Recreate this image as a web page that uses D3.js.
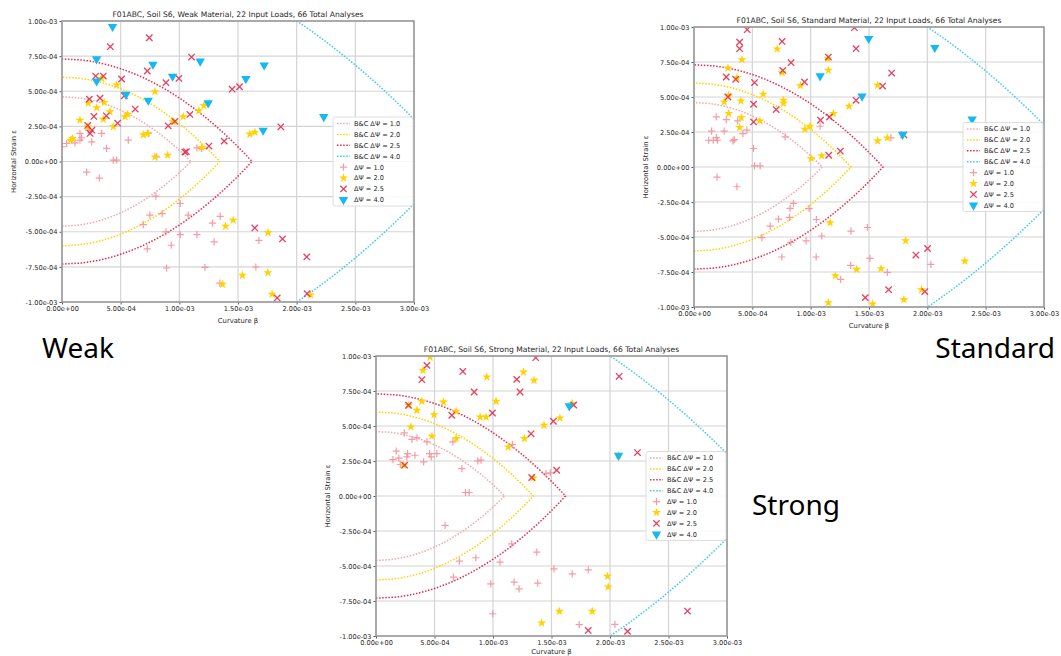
<!DOCTYPE html>
<html>
<head>
<meta charset="UTF-8">
<title>F01ABC, Soil S6 - Weak / Standard / Strong Material</title>
<script src="https://d3js.org/d3.v7.min.js"></script>
<style>
  body { margin: 0; background: #fff; }
  svg { display: block; }
  text { font-family: "DejaVu Sans", sans-serif; fill: #262626; }
  .big { font-family: "Noto Sans", sans-serif; font-size: 28px; fill: #000; }
</style>
</head>
<body>
<div id="chart"></div>
<script>
// all values in units of 1e-3 : [curvature beta, horizontal strain eps]
var xTicks = [0, 0.5, 1, 1.5, 2, 2.5, 3];
var yTicks = [-1, -0.75, -0.5, -0.25, 0, 0.25, 0.5, 0.75, 1];

var dvLevels = ["1.0", "2.0", "2.5", "4.0"];
var bcStrain0 = [0.46, 0.60, 0.73, 1.56];   // B&C limit: strain at zero curvature
var bcBetaMax = [1.10, 1.345, 1.62, 3.34];  // B&C limit: curvature at zero strain

// ---- Weak material
var weak10 = [[0.003,0.105],[0.040,0.128],[0.083,0.152],[0.111,0.133],[0.153,0.200],[0.153,0.152],[0.167,0.169],[0.224,0.223],[0.253,0.140],[0.338,0.200],[0.380,0.093],[0.437,0.010],[0.466,0.010],[0.565,0.152],[0.210,-0.076],[0.318,-0.119],[0.735,0.200],[0.807,0.033],[0.800,-0.247],[1.008,-0.299],[0.749,-0.382],[0.854,-0.371],[1.076,-0.382],[0.693,-0.449],[0.886,-0.501],[1.008,-0.520],[1.150,-0.520],[0.727,-0.622],[0.931,-0.596],[1.283,-0.439],[1.348,-0.390],[1.297,-0.572],[1.678,-0.561],[0.891,-0.758],[1.218,-0.753],[1.652,-0.751],[1.345,-0.865],[1.150,0.097],[1.190,0.093]];
var weak20 = [[0.338,0.591],[0.466,0.545],[0.792,0.497],[0.224,0.415],[0.296,0.383],[0.360,0.420],[0.153,0.294],[0.352,0.300],[0.409,0.355],[0.437,0.248],[0.537,0.319],[0.560,0.336],[1.033,0.319],[0.948,0.284],[1.210,0.398],[1.167,0.362],[0.693,0.190],[0.730,0.200],[0.792,0.033],[0.900,0.045],[1.190,0.100],[0.074,0.152],[0.091,0.164],[0.219,0.247],[1.601,0.195],[1.644,0.208],[1.394,-0.461],[1.459,-0.418],[1.757,-0.506],[1.538,-0.810],[1.368,-0.874],[1.754,-0.791],[1.791,-0.945],[2.118,-0.950]];
var weak25 = [[0.412,0.817],[0.744,0.881],[1.104,0.743],[0.287,0.608],[0.352,0.608],[0.727,0.644],[0.508,0.587],[0.886,0.561],[0.996,0.591],[0.531,0.468],[1.450,0.515],[1.513,0.532],[0.233,0.444],[0.324,0.451],[0.624,0.373],[0.378,0.325],[0.272,0.321],[0.219,0.257],[0.255,0.223],[0.474,0.273],[0.905,0.254],[0.962,0.285],[1.090,0.335],[1.047,0.067],[1.060,0.070],[1.252,0.110],[1.382,0.145],[1.865,0.247],[1.643,-0.473],[1.879,-0.551],[2.086,-0.679],[1.834,-0.971],[2.089,-0.941],[0.240,0.200]];
var weak40 = [[0.431,0.960],[0.295,0.729],[0.295,0.572],[0.775,0.691],[0.942,0.606],[1.178,0.713],[0.545,0.477],[0.735,0.435],[1.567,0.589],[1.246,0.416],[1.723,0.686],[2.231,0.318],[1.714,0.221]];

// ---- Standard material
var std10 = [[0.191,0.358],[0.277,0.339],[0.374,0.329],[0.151,0.256],[0.259,0.256],[0.453,0.263],[0.419,0.239],[0.125,0.191],[0.191,0.210],[0.202,0.191],[0.165,0.191],[0.334,0.187],[0.345,0.195],[0.781,0.215],[0.510,0.132],[0.519,0.008],[0.567,0.008],[0.197,-0.073],[0.368,-0.141],[0.853,-0.260],[0.824,-0.296],[0.987,-0.298],[0.818,-0.360],[0.724,-0.372],[0.653,-0.422],[0.582,-0.505],[0.830,-0.539],[0.961,-0.527],[1.049,-0.375],[1.095,-0.493],[0.753,-0.643],[1.047,-0.643],[1.346,-0.458],[1.486,-0.432],[1.508,-0.653],[1.343,-0.703],[1.257,-0.803],[1.657,-0.753],[2.030,-0.696],[1.688,0.208],[1.081,0.291]];
var std20 = [[0.713,0.843],[0.411,0.767],[0.291,0.707],[0.368,0.638],[1.146,0.774],[1.152,0.691],[0.756,0.674],[0.912,0.581],[0.593,0.520],[0.767,0.477],[0.767,0.455],[0.297,0.512],[0.259,0.465],[0.402,0.472],[0.297,0.382],[0.405,0.353],[0.391,0.282],[0.565,0.329],[1.329,0.434],[1.195,0.382],[1.574,0.584],[0.950,0.270],[0.995,0.291],[1.004,0.061],[1.095,0.080],[1.574,0.187],[1.657,0.208],[1.166,-0.398],[1.814,-0.527],[2.321,-0.672],[1.212,-0.777],[1.394,-0.731],[1.603,-0.727],[1.152,-0.969],[1.531,-0.978],[1.799,-0.947],[1.950,-0.876]];
var std25 = [[0.456,0.981],[1.375,0.995],[0.391,0.892],[0.391,0.845],[0.755,0.897],[1.389,0.845],[0.832,0.745],[1.152,0.785],[0.761,0.690],[1.694,0.671],[0.276,0.643],[0.357,0.626],[0.519,0.603],[0.947,0.607],[1.617,0.578],[0.291,0.500],[0.511,0.448],[1.389,0.476],[0.704,0.410],[0.511,0.322],[1.084,0.334],[1.161,0.357],[1.799,0.230],[1.155,0.084],[1.255,0.113],[2.002,-0.582],[1.902,-0.629],[1.668,-0.876],[1.468,-0.933],[1.979,-0.890],[2.270,-1.030]];
var std40 = [[1.497,0.917],[2.064,0.853],[1.081,0.650],[1.440,0.505],[1.788,0.232],[2.384,0.341]];

// ---- Strong material
var str10 = [[0.242,0.451],[0.307,0.405],[0.350,0.415],[0.435,0.386],[0.657,0.386],[0.173,0.320],[0.270,0.303],[0.333,0.291],[0.458,0.303],[0.520,0.303],[0.145,0.260],[0.208,0.225],[0.264,0.279],[0.407,0.244],[0.472,0.279],[0.898,0.256],[0.870,0.250],[0.734,0.196],[0.765,0.025],[0.796,0.025],[1.166,0.367],[1.453,0.160],[1.490,0.165],[0.591,-0.210],[1.160,-0.342],[1.374,-0.401],[0.713,-0.465],[0.853,-0.441],[1.060,-0.472],[0.662,-0.579],[0.981,-0.627],[1.180,-0.615],[1.223,-0.663],[1.382,-0.622],[1.521,-0.520],[1.677,-0.556],[1.814,-0.527],[0.998,-0.841],[1.737,-0.919],[2.042,-0.917],[0.195,0.270]];
var str20 = [[0.463,0.992],[0.401,0.897],[0.947,0.850],[1.260,0.885],[1.351,0.826],[0.392,0.676],[0.350,0.612],[0.577,0.671],[0.497,0.581],[0.685,0.605],[1.026,0.676],[0.890,0.564],[0.941,0.564],[0.298,0.493],[0.478,0.427],[0.685,0.410],[1.131,0.350],[1.268,0.410],[1.436,0.505],[1.572,0.557],[1.678,0.660],[2.073,0.291],[1.345,0.129],[1.979,-0.574],[1.985,-0.650],[1.567,-0.824],[1.848,-0.824],[1.416,-0.907],[0.236,0.220],[0.278,0.648]];
var str25 = [[1.365,0.988],[0.435,0.933],[0.392,0.831],[0.742,0.890],[1.203,0.833],[2.078,0.855],[0.839,0.743],[1.231,0.743],[0.278,0.648],[0.648,0.577],[0.995,0.593],[1.516,0.534],[1.325,0.444],[2.235,0.310],[1.544,0.184],[1.331,0.132],[0.245,0.220],[1.814,-0.960],[2.150,-0.967],[2.662,-0.822],[1.690,0.650]];
var str40 = [[1.652,0.643],[2.073,0.289]];

var W = 1061, H = 656;
var markColors = ["#f48a96", "#ffd200", "#e42a4c", "#14b9f2"];
var lineColors = ["#f5a3ab", "#ffd200", "#e42a4c", "#3cc6f5"];

var svg = d3.select("#chart").append("svg").attr("width", W).attr("height", H);
svg.append("rect").attr("width", W).attr("height", H).attr("fill", "#fff");

function sci(v) {
  var s = (v * 1e-3).toExponential(2).split("e");
  var e = +s[1];
  return s[0] + "e" + (e < 0 ? "-" : "+") + String(Math.abs(e)).padStart(2, "0");
}

function addMarker(sel, k) {
  if (k === 0) {
    sel.append("path").attr("d", "M-3.6,0H3.6M0,-3.6V3.6")
      .attr("fill", "none").attr("stroke", markColors[0]).attr("stroke-width", 1.2).attr("opacity", 0.85);
  } else if (k === 1) {
    sel.append("path").attr("d", d3.symbol(d3.symbolStar, 26)())
      .attr("fill", markColors[1]);
  } else if (k === 2) {
    sel.append("path").attr("d", "M-3.2,-3.2L3.2,3.2M-3.2,3.2L3.2,-3.2")
      .attr("fill", "none").attr("stroke", markColors[2]).attr("stroke-width", 1.3).attr("opacity", 0.9);
  } else {
    sel.append("path").attr("d", d3.symbol(d3.symbolTriangle, 38)())
      .attr("transform", "rotate(180)").attr("fill", markColors[3]);
  }
}

function drawPanel(p) {
  var x = d3.scaleLinear().domain([0, 3]).range([p.x0, p.x1]);
  var y = d3.scaleLinear().domain([-1, 1]).range([p.y1, p.y0]);
  var g = svg.append("g");

  var clipId = "clip-" + p.name;
  svg.append("clipPath").attr("id", clipId).append("rect")
    .attr("x", p.x0).attr("y", p.y0).attr("width", p.x1 - p.x0).attr("height", p.y1 - p.y0);

  // grid
  var grid = g.append("g").attr("stroke", "#d4d4d4").attr("stroke-width", 1.2);
  grid.selectAll(".gx").data(xTicks).join("line")
    .attr("x1", d => x(d)).attr("x2", d => x(d)).attr("y1", p.y0).attr("y2", p.y1);
  grid.selectAll(".gy").data(yTicks).join("line")
    .attr("y1", d => y(d)).attr("y2", d => y(d)).attr("x1", p.x0).attr("x2", p.x1);

  // axes
  var ax = g.append("g").attr("transform", "translate(0," + p.y1 + ")")
    .call(d3.axisBottom(x).tickValues(xTicks).tickFormat(sci).tickSizeInner(2.5).tickSizeOuter(0).tickPadding(2));
  var ay = g.append("g").attr("transform", "translate(" + p.x0 + ",0)")
    .call(d3.axisLeft(y).tickValues(yTicks).tickFormat(sci).tickSizeInner(2.5).tickSizeOuter(0).tickPadding(2));
  [ax, ay].forEach(function (a) {
    a.select(".domain").remove();
    a.selectAll("line").attr("stroke", "#555");
    a.selectAll("text").attr("font-size", 6.6).attr("fill", "#333").attr("font-family", "DejaVu Sans");
  });

  // B&C limit curves
  var line = d3.line().x(d => x(d[0])).y(d => y(d[1]));
  var curves = g.append("g").attr("clip-path", "url(#" + clipId + ")");
  dvLevels.forEach(function (lv, i) {
    var E = bcStrain0[i], B = bcBetaMax[i];
    var pts = d3.range(0, 201).map(function (j) {
      var e = -E + 2 * E * j / 200;
      return [B * Math.sqrt(Math.max(0, 1 - Math.abs(e) / E)), e];
    });
    curves.append("path").attr("d", line(pts)).attr("fill", "none")
      .attr("stroke", lineColors[i]).attr("stroke-width", 1.5)
      .attr("stroke-dasharray", "1.5,1.6");
  });

  // scatter
  var marks = g.append("g").attr("clip-path", "url(#" + clipId + ")");
  p.series.forEach(function (pts, k) {
    marks.selectAll(".m" + k).data(pts).join("g")
      .attr("transform", d => "translate(" + x(d[0]) + "," + y(d[1]) + ")")
      .each(function () { addMarker(d3.select(this), k); });
  });

  // frame
  g.append("rect").attr("x", p.x0).attr("y", p.y0)
    .attr("width", p.x1 - p.x0).attr("height", p.y1 - p.y0)
    .attr("fill", "none").attr("stroke", "#9a9a9a").attr("stroke-width", 1.6);

  // titles
  g.append("text").attr("x", (p.x0 + p.x1) / 2).attr("y", p.y0 - 4.5)
    .attr("text-anchor", "middle").attr("font-size", 7.6).text(p.title);
  g.append("text").attr("x", (p.x0 + p.x1) / 2).attr("y", Math.min(p.y1 + 21, H - 2.5))
    .attr("text-anchor", "middle").attr("font-size", 6.8).text("Curvature β");
  g.append("text").attr("transform", "translate(" + (p.x0 - 46) + "," + ((p.y0 + p.y1) / 2) + ") rotate(-90)")
    .attr("text-anchor", "middle").attr("font-size", 6.8).text("Horizontal Strain ε");

  // legend (center right)
  var lw = 80, lh = 89, rowH = 10.9;
  var lx = p.x1 - lw - 1, ly = (p.y0 + p.y1) / 2 - lh / 2;
  var lg = g.append("g").attr("transform", "translate(" + lx + "," + ly + ")");
  lg.append("rect").attr("width", lw).attr("height", lh).attr("rx", 2)
    .attr("fill", "#fff").attr("fill-opacity", 0.85).attr("stroke", "#d6d6d6").attr("stroke-width", 0.8);
  dvLevels.forEach(function (lv, i) {
    var ry = 6.5 + i * rowH;
    lg.append("line").attr("x1", 4).attr("x2", 17).attr("y1", ry).attr("y2", ry)
      .attr("stroke", lineColors[i]).attr("stroke-width", 1.5).attr("stroke-dasharray", "1.5,1.6");
    lg.append("text").attr("x", 21).attr("y", ry + 2.4).attr("font-size", 6.6).text("B&C ΔΨ = " + lv);
  });
  dvLevels.forEach(function (lv, i) {
    var ry = 6.5 + (i + 4) * rowH;
    addMarker(lg.append("g").attr("transform", "translate(10.5," + ry + ")"), i);
    lg.append("text").attr("x", 21).attr("y", ry + 2.4).attr("font-size", 6.6).text("ΔΨ = " + lv);
  });
}

drawPanel({ name: "weak", x0: 62, x1: 414, y0: 21, y1: 302,
  title: "F01ABC, Soil S6, Weak Material, 22 Input Loads, 66 Total Analyses",
  series: [weak10, weak20, weak25, weak40] });
drawPanel({ name: "standard", x0: 694, x1: 1044, y0: 27, y1: 307,
  title: "F01ABC, Soil S6, Standard Material, 22 Input Loads, 66 Total Analyses",
  series: [std10, std20, std25, std40] });
drawPanel({ name: "strong", x0: 376, x1: 727, y0: 356, y1: 636,
  title: "F01ABC, Soil S6, Strong Material, 22 Input Loads, 66 Total Analyses",
  series: [str10, str20, str25, str40] });

svg.append("text").attr("class", "big").attr("x", 42).attr("y", 358).text("Weak");
svg.append("text").attr("class", "big").attr("x", 1055).attr("y", 358).attr("text-anchor", "end").text("Standard");
svg.append("text").attr("class", "big").attr("x", 752).attr("y", 515).text("Strong");
</script>
</body>
</html>
